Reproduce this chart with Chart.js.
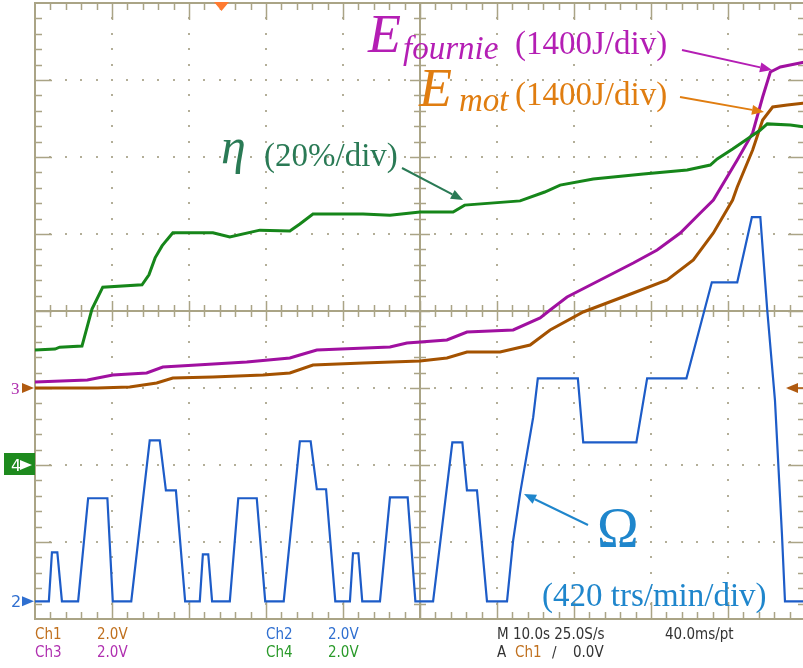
<!DOCTYPE html>
<html>
<head>
<meta charset="utf-8">
<script src="https://cdn.jsdelivr.net/npm/chart.js@4/dist/chart.umd.min.js"></script>
<style>
  html, body { margin: 0; padding: 0; background: #fff; overflow: hidden; }
  #scope { display: block; }
</style>
</head>
<body>
<canvas id="scope" width="805" height="668"></canvas>
<script>
// time in s (10 s/div), values in channel units
var omegaTime = [0, 1.8, 2.2, 2.9, 3.5, 5.6, 6.9, 9.4, 10.1, 12.5, 14.9, 16.2, 17.0, 18.3, 19.5,
    21.4, 21.8, 22.5, 23.0, 25.3, 26.4, 28.8, 29.9, 32.3, 34.4, 35.8, 36.6, 37.8, 39.0,
    40.9, 41.3, 42.0, 42.5, 44.8, 46.1, 48.4, 49.4, 51.7, 54.2, 55.5, 56.1, 57.4, 58.7,
    61.3, 62.1, 63.0, 64.7, 65.3, 70.5, 71.2, 78.1, 79.5, 84.6, 87.9, 91.2, 93.1, 94.2,
    95.1, 96.1, 97.0, 97.4, 100];
var omegaRpm = [0, 0, 267, 267, 0, 0, 562, 562, 0, 0, 878, 878, 605, 605, 0,
    0, 256, 256, 0, 0, 562, 562, 0, 0, 873, 873, 611, 611, 0,
    0, 262, 262, 0, 0, 567, 567, 0, 0, 867, 867, 605, 605, 0,
    0, 333, 589, 1004, 1216, 1216, 867, 867, 1216, 1216, 1740, 1740, 2095, 2095,
    1587, 1096, 371, 0, 0];

var etaTime = [0, 2.6, 3.2, 6.1, 7.4, 8.8, 13.9, 14.8, 15.6, 16.5, 17.1, 17.9, 23.1, 25.3,
    29.2, 33.1, 34.4, 36.1, 42.6, 46.1, 50.0, 54.3, 55.8, 63.0, 66.2, 68.2, 72.5, 79.0,
    84.7, 87.7, 88.6, 90.6, 92.5, 94.2, 95.1, 98.1, 100];
var etaPct = [29.9, 30.1, 30.6, 30.9, 40.5, 46.2, 46.8, 49.4, 53.8, 56.9, 58.4, 60.3, 60.3, 59.2,
    61.0, 60.8, 62.6, 65.2, 65.2, 64.9, 65.7, 65.7, 67.5, 68.6, 70.9, 72.7, 74.3, 75.6,
    76.6, 77.9, 79.5, 82.1, 84.7, 87.0, 88.6, 88.3, 87.8];

var eFournieTime = [0, 6.8, 10.1, 14.5, 16.6, 21.0, 27.5, 33.1, 34.4, 36.6, 46.1, 48.3, 53.5,
    56.1, 62.1, 65.6, 66.9, 69.1, 73.4, 77.7, 80.8, 83.8, 86.4, 88.1, 91.2, 93.2, 94.5,
    95.5, 96.8, 100];
var eFournieJ = [109, 145, 236, 273, 382, 418, 473, 545, 600, 691, 745, 818, 873,
    1018, 1055, 1273, 1418, 1655, 1964, 2273, 2509, 2818, 3182, 3418, 4145, 4636, 5291,
    5745, 5836, 5927];

var eMotTime = [0, 8.1, 12.3, 15.8, 17.9, 23.1, 29.6, 33.1, 36.1, 42.6, 50.0, 53.5, 56.1,
    60.4, 64.3, 66.9, 71.2, 77.7, 82.1, 85.5, 88.1, 90.6, 91.2, 93.2, 94.5, 95.8, 97.7, 100];
var eMotJ = [0, 0, 18, 91, 182, 200, 236, 273, 418, 455, 491, 545, 655,
    655, 782, 1055, 1382, 1727, 1964, 2327, 2818, 3418, 3655, 4327, 4873, 5109, 5145, 5182];

// channel settings: units per division and ground marker position (div from centre)
var OMEGA_PER_DIV = 420, OMEGA_ZERO = -3.77;
var ETA_PER_DIV = 20, ETA_ZERO = -2;
var E_PER_DIV = 1400, E_ZERO = -1;

var GRID = "#aaa486";
var DOT = "#b3ae98";

function toPoints(times, vals, perDiv, zero) {
    return times.map(function(t, i) {
        return {x: t, y: zero + vals[i] / perDiv};
    });
}

function arrow(ctx, x1, y1, x2, y2, color, w) {
    var a = Math.atan2(y2 - y1, x2 - x1);
    var hl = 12, hw = 5;
    ctx.strokeStyle = color;
    ctx.fillStyle = color;
    ctx.lineWidth = w || 2;
    ctx.beginPath();
    ctx.moveTo(x1, y1);
    ctx.lineTo(x2 - hl * Math.cos(a), y2 - hl * Math.sin(a));
    ctx.stroke();
    ctx.beginPath();
    ctx.moveTo(x2, y2);
    ctx.lineTo(x2 - hl * Math.cos(a) + hw * Math.sin(a), y2 - hl * Math.sin(a) - hw * Math.cos(a));
    ctx.lineTo(x2 - hl * Math.cos(a) - hw * Math.sin(a), y2 - hl * Math.sin(a) + hw * Math.cos(a));
    ctx.closePath();
    ctx.fill();
}

var scopeGrid = {
    id: 'scopeGrid',
    beforeDatasetsDraw: function(chart) {
        var ctx = chart.ctx, a = chart.chartArea;
        var x = chart.scales.x, y = chart.scales.y;
        var i, k, px, py;
        ctx.save();
        // dotted graticule
        ctx.fillStyle = DOT;
        for (i = 1; i < 10; i++) {
            if (i === 5) continue;
            px = Math.round(x.getPixelForValue(i * 10));
            for (k = 1; k < 40; k++) {
                py = Math.round(y.getPixelForValue(-4 + k * 0.2));
                ctx.fillRect(px - 1, py - 1, 2, 2);
            }
        }
        for (i = -3; i <= 3; i++) {
            if (i === 0) continue;
            py = Math.round(y.getPixelForValue(i));
            for (k = 1; k < 50; k++) {
                px = Math.round(x.getPixelForValue(k * 2));
                ctx.fillRect(px - 1, py - 1, 2, 2);
            }
        }
        ctx.strokeStyle = GRID;
        ctx.lineWidth = 2;
        ctx.strokeRect(a.left, a.top, a.right - a.left, a.bottom - a.top);
        var cx = Math.round(x.getPixelForValue(50)), cy = Math.round(y.getPixelForValue(0));
        ctx.beginPath();
        ctx.moveTo(a.left, cy); ctx.lineTo(a.right, cy);
        ctx.moveTo(cx, a.top); ctx.lineTo(cx, a.bottom);
        ctx.stroke();
        // ticks every 0.2 div
        ctx.lineWidth = 1.5;
        ctx.beginPath();
        for (k = 1; k < 50; k++) {
            px = Math.round(x.getPixelForValue(k * 2)) + 0.5;
            var major = k % 5 === 0;
            var bl = major ? 17 : 7, cl = major ? 10 : 6;
            ctx.moveTo(px, a.top); ctx.lineTo(px, a.top + bl);
            ctx.moveTo(px, a.bottom); ctx.lineTo(px, a.bottom - bl);
            ctx.moveTo(px, cy - cl); ctx.lineTo(px, cy + cl);
        }
        for (k = 1; k < 40; k++) {
            py = Math.round(y.getPixelForValue(-4 + k * 0.2)) + 0.5;
            var maj = k % 5 === 0;
            var bl2 = maj ? 17 : 7, cl2 = maj ? 10 : 6;
            ctx.moveTo(a.left, py); ctx.lineTo(a.left + bl2, py);
            ctx.moveTo(a.right, py); ctx.lineTo(a.right - bl2, py);
            ctx.moveTo(cx - cl2, py); ctx.lineTo(cx + cl2, py);
        }
        ctx.stroke();
        ctx.restore();
    },
    afterDatasetsDraw: function(chart) {
        var ctx = chart.ctx;
        var y = chart.scales.y;
        var serif = '"Liberation Serif", "Times New Roman", serif';
        ctx.save();
        ctx.textBaseline = 'alphabetic';
        ctx.textAlign = 'left';

        // trigger marker
        ctx.fillStyle = '#ff7a30';
        ctx.beginPath();
        ctx.moveTo(214, 2); ctx.lineTo(229, 2); ctx.lineTo(221.5, 11); ctx.closePath();
        ctx.fill();

        // channel ground markers
        var y3 = y.getPixelForValue(E_ZERO), y4 = y.getPixelForValue(ETA_ZERO), y2 = y.getPixelForValue(OMEGA_ZERO);
        ctx.font = '17px ' + serif;
        ctx.fillStyle = '#b030b0';
        ctx.fillText('3', 11, y3 + 6);
        arrow(ctx, 22, y3, 34, y3, '#b05a10', 1.5);
        ctx.fillStyle = '#1e8a1e';
        ctx.fillRect(4, y4 - 12, 31, 22);
        ctx.fillStyle = '#fff';
        ctx.font = '16px "DejaVu Sans", sans-serif';
        ctx.fillText('4', 11, y4 + 6);
        arrow(ctx, 22, y4, 32, y4, '#fff', 1.5);
        ctx.fillStyle = '#2f6fd0';
        ctx.fillText('2', 11, y2 + 6);
        arrow(ctx, 22, y2, 34, y2, '#2f6fd0', 1.5);
        arrow(ctx, 803, y3, 786, y3, '#b05a10', 1.5);

        // E fournie
        var purple = '#b41eb4';
        ctx.fillStyle = purple;
        ctx.font = 'italic 54px ' + serif;
        ctx.fillText('E', 368, 52);
        ctx.font = 'italic 33px ' + serif;
        ctx.fillText('fournie', 403, 59);
        ctx.font = '33px ' + serif;
        ctx.fillText('(1400J/div)', 515, 54);
        arrow(ctx, 682, 50, 772, 70, purple, 2);

        // E mot
        var orange = '#e07d10';
        ctx.fillStyle = orange;
        ctx.font = 'italic 54px ' + serif;
        ctx.fillText('E', 419, 106);
        ctx.font = 'italic 33px ' + serif;
        ctx.fillText('mot', 459, 111);
        ctx.font = '33px ' + serif;
        ctx.fillText('(1400J/div)', 515, 105);
        arrow(ctx, 680, 97, 764, 112, orange, 2);

        // eta
        var green = '#2a7a55';
        ctx.fillStyle = green;
        ctx.font = 'italic 50px ' + serif;
        ctx.fillText('\u03b7', 221, 163);
        ctx.font = '33px ' + serif;
        ctx.fillText('(20%/div)', 264, 166);
        arrow(ctx, 402, 168, 463, 200, green, 2);

        // omega
        var blue = '#1f86cc';
        ctx.fillStyle = blue;
        ctx.font = '56px ' + serif;
        ctx.fillText('\u03a9', 597, 547);
        ctx.font = '33px ' + serif;
        ctx.fillText('(420 trs/min/div)', 542, 606);
        arrow(ctx, 588, 525, 524, 494, blue, 2);

        // status line
        ctx.font = '15px "Liberation Sans Narrow", "DejaVu Sans Condensed", sans-serif';
        try { ctx.fontStretch = 'condensed'; } catch (e) {}
        var rows = [
            [35, 639, 'Ch1', '#c0701e'], [97, 639, '2.0V', '#c0701e'],
            [266, 639, 'Ch2', '#2f6fd0'], [328, 639, '2.0V', '#2f6fd0'],
            [497, 639, 'M 10.0s 25.0S/s', '#333'], [665, 639, '40.0ms/pt', '#333'],
            [35, 657, 'Ch3', '#b030b0'], [97, 657, '2.0V', '#b030b0'],
            [266, 657, 'Ch4', '#2a9a2a'], [328, 657, '2.0V', '#2a9a2a'],
            [497, 657, 'A', '#333'], [515, 657, 'Ch1', '#c0701e'],
            [552, 657, '\u2215', '#333'], [573, 657, '0.0V', '#333']
        ];
        rows.forEach(function(r) {
            ctx.fillStyle = r[3];
            ctx.fillText(r[2], r[0], r[1]);
        });
        ctx.restore();
    }
};

var ctx = document.getElementById("scope").getContext("2d");
var scopeChart = new Chart(ctx, {
    type: 'scatter',
    data: {
        datasets: [
            {
                label: 'Omega',
                data: toPoints(omegaTime, omegaRpm, OMEGA_PER_DIV, OMEGA_ZERO),
                borderColor: '#1d5cc8',
                borderWidth: 2.2
            },
            {
                label: 'eta',
                data: toPoints(etaTime, etaPct, ETA_PER_DIV, ETA_ZERO),
                borderColor: '#16861a',
                borderWidth: 3
            },
            {
                label: 'E fournie',
                data: toPoints(eFournieTime, eFournieJ, E_PER_DIV, E_ZERO),
                borderColor: '#a010a0',
                borderWidth: 3
            },
            {
                label: 'E mot',
                data: toPoints(eMotTime, eMotJ, E_PER_DIV, E_ZERO),
                borderColor: '#a45200',
                borderWidth: 3
            }
        ]
    },
    options: {
        responsive: false,
        animation: false,
        devicePixelRatio: 1,
        showLine: true,
        elements: {
            point: { radius: 0, hoverRadius: 0 },
            line: { tension: 0, fill: false }
        },
        layout: { padding: { left: 35, right: 0, top: 3, bottom: 49 } },
        scales: {
            x: { type: 'linear', min: 0, max: 100, display: false },
            y: { type: 'linear', min: -4, max: 4, display: false }
        },
        plugins: {
            legend: { display: false },
            tooltip: { enabled: false }
        }
    },
    plugins: [scopeGrid]
});
</script>
</body>
</html>
